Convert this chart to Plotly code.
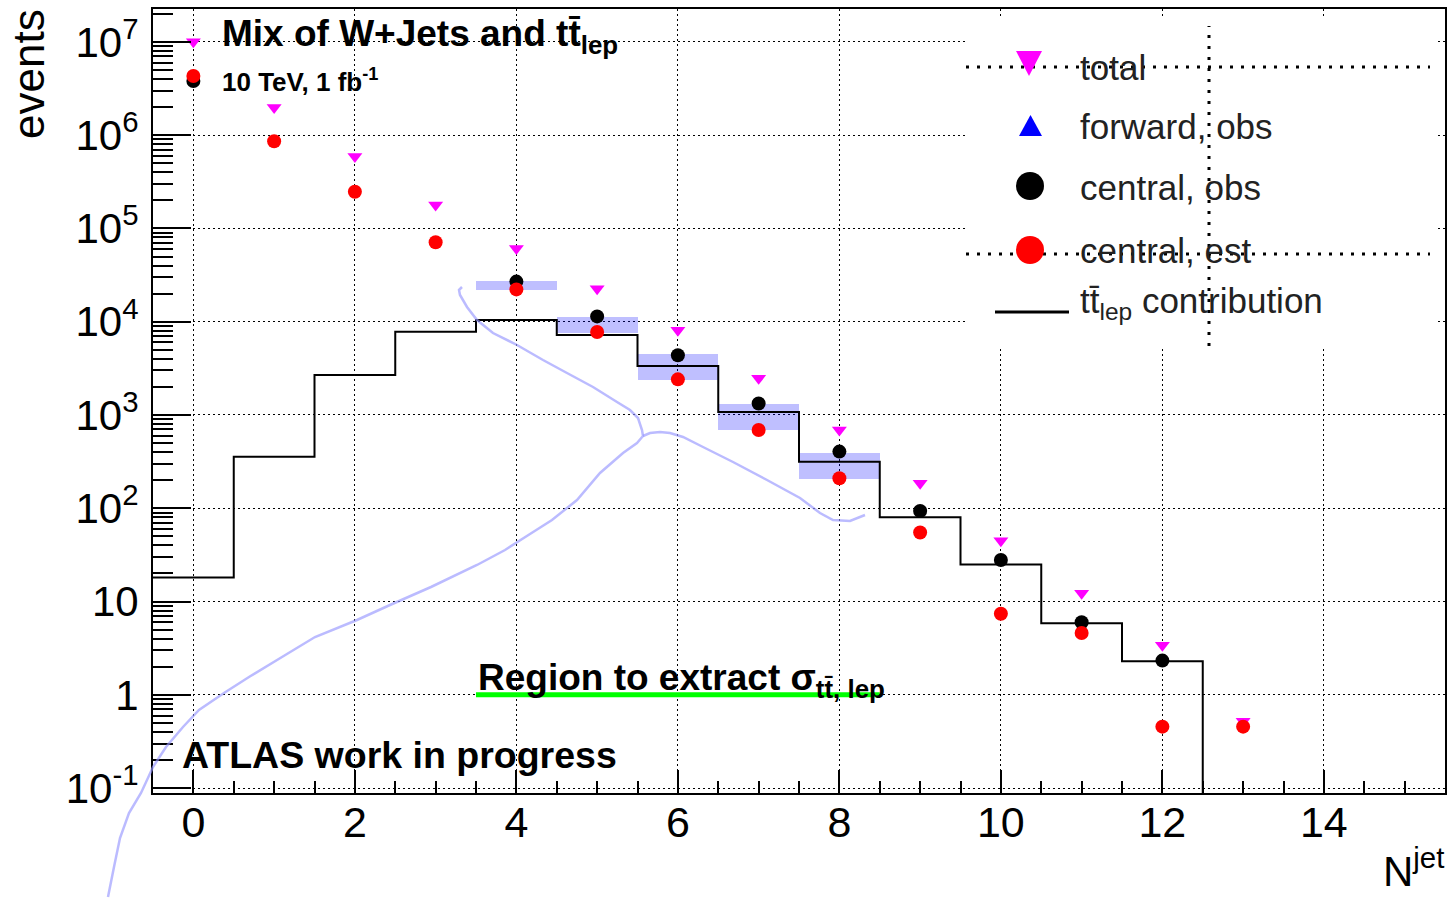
import plotly.graph_objects as go

# ---------------- data ----------------
njet = list(range(14))
total = [1.0e7, 1.98e6, 5.9e5, 1.78e5, 6.1e4, 2.25e4, 8.1e3, 2.47e3, 690, 185, 45, 12.3, 3.4, 0.52]
central_obs = [3.8e6, None, None, None, 2.69e4, 1.14e4, 4.37e3, 1.33e3, 405, 93.6, 27.9, 6.0, 2.33, None]
central_est = [4.3e6, 8.6e5, 2.47e5, 7.1e4, 2.22e4, 7.75e3, 2.41e3, 690, 210, 55, 7.4, 4.6, 0.456, 0.456]

ttbar_bins = list(range(13))
ttbar_lep = [18.1, 357, 2680, 7.8e3, 1.04e4, 7.2e3, 3.35e3, 1.08e3, 316, 80, 25, 5.85, 2.29]

band_bins = [4, 5, 6, 7, 8]
band_lo = [2.17e4, 7.57e3, 2.39e3, 690, 208]
band_hi = [2.74e4, 1.12e4, 4.51e3, 1.31e3, 392]

region_range = [3.5, 8.5]
region_level = 1.0

x_ticks = [0, 2, 4, 6, 8, 10, 12, 14]
y_ticks = [0.1, 1, 10, 1e2, 1e3, 1e4, 1e5, 1e6, 1e7]
y_ticktext = ["10<sup>-1</sup>", "1", "10", "10<sup>2</sup>", "10<sup>3</sup>",
              "10<sup>4</sup>", "10<sup>5</sup>", "10<sup>6</sup>", "10<sup>7</sup>"]

legend_labels = ["total", "forward, obs", "central, obs", "central, est",
                 "tt\u0304<sub>lep</sub> contribution"]

# ---------------- geometry helpers (page pixels) ----------------
W, H = 1449, 898
L, R, T, B = 153, 1445, 9, 793
XR = [-0.5, 15.5]
YR = [-1.052, 7.352]


def px(x):
    return (x - L) / (R - L)


def py(y):
    return (B - y) / (B - T)


def bin_edges(centres):
    return [c - 0.5 for c in centres] + [centres[-1] + 0.5]


fig = go.Figure()

# uncertainty bands
fig.add_trace(go.Bar(
    x=band_bins, base=band_lo, y=[h - l for h, l in zip(band_hi, band_lo)],
    width=1.0, marker=dict(color="rgba(0,0,255,0.25)", line=dict(width=0)),
    showlegend=False, hoverinfo="skip"))

# ttbar step histogram (drawn down to the axis floor after last bin)
edges = bin_edges(ttbar_bins)
floor_val = 10 ** YR[0]
fig.add_trace(go.Scatter(
    x=edges, y=ttbar_lep + [floor_val], mode="lines", line_shape="hv",
    line=dict(color="black", width=2), showlegend=False, hoverinfo="skip"))

# region line
fig.add_trace(go.Scatter(
    x=region_range, y=[region_level, region_level], mode="lines",
    line=dict(color="#00ff00", width=5), showlegend=False, hoverinfo="skip"))

fig.add_trace(go.Scatter(
    x=njet, y=total, mode="markers",
    marker=dict(symbol="triangle-down", size=13, color="#ff00ff"),
    showlegend=False))
fig.add_trace(go.Scatter(
    x=njet, y=central_obs, mode="markers",
    marker=dict(symbol="circle", size=14, color="black"),
    showlegend=False))
fig.add_trace(go.Scatter(
    x=njet, y=central_est, mode="markers",
    marker=dict(symbol="circle", size=14, color="#ff0000"),
    showlegend=False))

# ---------------- decorative hand-drawn curve ----------------
curve_ab = [(108, 897), (114, 867), (120, 838), (129, 813), (141, 793), (153, 767), (166, 747),
            (183, 727), (199, 710), (224, 693), (249, 677), (282, 657), (315, 637), (357, 620),
            (390, 605), (431, 587), (477, 565), (505, 550), (530, 534), (552, 520), (577, 500),
            (600, 473), (623, 453), (637, 443), (643, 436), (642, 430), (638, 418), (630, 410),
            (617, 402), (593, 387), (567, 373), (543, 360), (517, 345), (493, 333), (477, 320),
            (467, 307), (460, 295), (459, 290), (462, 287)]
curve_c = [(643, 436), (650, 433), (660, 432), (670, 433), (683, 437), (703, 447), (733, 462),
           (767, 480), (800, 498), (820, 513), (833, 520), (850, 521), (865, 515)]


def path_of(pts):
    return "M " + " L ".join(f"{px(a):.5f},{py(b):.5f}" for a, b in pts)


shapes = []
for pts in (curve_ab, curve_c):
    shapes.append(dict(type="path", path=path_of(pts), xref="paper", yref="paper",
                       line=dict(color="rgba(150,150,255,0.65)", width=2.5), layer="above"))

# ---------------- legend box (manual) ----------------
shapes.append(dict(type="rect", xref="paper", yref="paper", x0=px(965), x1=px(1437),
                   y0=py(346), y1=py(19), fillcolor="white", line=dict(width=0), layer="above"))
dot = dict(color="black", width=3, dash="3px,8px")
shapes.append(dict(type="line", xref="paper", yref="paper", x0=px(966), x1=px(1430),
                   y0=py(67), y1=py(67), line=dot, layer="above"))
shapes.append(dict(type="line", xref="paper", yref="paper", x0=px(966), x1=px(1430),
                   y0=py(254), y1=py(254), line=dot, layer="above"))
shapes.append(dict(type="line", xref="paper", yref="paper", x0=px(1209), x1=px(1209),
                   y0=py(346), y1=py(26), line=dot, layer="above"))
# legend symbols
shapes.append(dict(type="path", xref="paper", yref="paper", layer="above",
                   path=f"M {px(1016)},{py(51)} L {px(1042)},{py(51)} L {px(1029)},{py(76)} Z",
                   fillcolor="#ff00ff", line=dict(width=0)))
shapes.append(dict(type="path", xref="paper", yref="paper", layer="above",
                   path=f"M {px(1019)},{py(136)} L {px(1042)},{py(136)} L {px(1030.5)},{py(115)} Z",
                   fillcolor="#0000ff", line=dict(width=0)))
shapes.append(dict(type="circle", xref="paper", yref="paper", layer="above",
                   x0=px(1016), x1=px(1044), y0=py(200), y1=py(172),
                   fillcolor="black", line=dict(width=0)))
shapes.append(dict(type="circle", xref="paper", yref="paper", layer="above",
                   x0=px(1016), x1=px(1044), y0=py(264), y1=py(236),
                   fillcolor="#ff0000", line=dict(width=0)))
shapes.append(dict(type="line", xref="paper", yref="paper", layer="above",
                   x0=px(995), x1=px(1069), y0=py(312), y1=py(312),
                   line=dict(color="black", width=3)))

# ---------------- annotations ----------------
ann = []


def text(t, x, baseline, size, bold=False, anchor="left", color="black", family="Liberation Sans"):
    s = f"<b>{t}</b>" if bold else t
    ann.append(dict(text=s, x=px(x), y=py(baseline - 0.35 * size), xref="paper", yref="paper",
                    xanchor=anchor, yanchor="middle", showarrow=False,
                    font=dict(size=size, color=color, family=family)))


text("Mix of W+Jets and tt\u0304<sub>lep</sub>", 220, 49, 37, bold=True)
text("10 TeV, 1 fb<sup>-1</sup>", 220, 90, 26, bold=True)
text("Region to extract \u03c3<sub>tt\u0304, lep</sub>", 476, 693, 37, bold=True)
text("ATLAS work in progress", 180, 768, 37.5, bold=True)

leg_base = [80, 139, 200, 263, 315]
for lab, b in zip(legend_labels, leg_base):
    text(lab, 1078, b, 35, color="#222222")

ann.append(dict(text="events", x=px(28), y=py(74), xref="paper", yref="paper",
                xanchor="center", yanchor="middle", showarrow=False, textangle=-90,
                font=dict(size=44, color="black", family="Liberation Sans")))
ann.append(dict(text="N<sup>jet</sup>", x=px(1446), y=py(897), xref="paper", yref="paper",
                xanchor="right", yanchor="bottom", showarrow=False,
                font=dict(size=42, color="black", family="Liberation Sans")))

minor_y = [k * 10 ** e for e in range(-2, 8) for k in range(2, 10)]

fig.update_layout(
    width=W, height=H,
    margin=dict(l=L, r=W - R, t=T, b=H - B, pad=0, autoexpand=False),
    paper_bgcolor="white", plot_bgcolor="white",
    shapes=shapes, annotations=ann, showlegend=False, bargap=0,
    xaxis=dict(range=XR, showline=True, linecolor="black", linewidth=2, mirror=True,
               ticks="inside", ticklen=23, tickwidth=2, tickcolor="black",
               tickmode="array", tickvals=x_ticks, automargin=False, ticklabelstandoff=-10,
               tickfont=dict(size=43, family="Liberation Sans", color="black"),
               showgrid=True, gridcolor="black", gridwidth=1, griddash="2px,3px", zeroline=False,
               minor=dict(ticks="inside", ticklen=12, tickwidth=1.5, tickcolor="black",
                          tickmode="linear", tick0=0, dtick=0.5, showgrid=False)),
    yaxis=dict(type="log", range=YR, showline=True, linecolor="black", linewidth=2, mirror=True,
               ticks="inside", ticklen=38, tickwidth=2, tickcolor="black",
               tickmode="array", tickvals=y_ticks, ticktext=y_ticktext, automargin=False,
               ticklabelstandoff=4,
               tickfont=dict(size=42, family="Liberation Sans", color="black"),
               showgrid=True, gridcolor="black", gridwidth=1, griddash="2px,3px", zeroline=False,
               minor=dict(ticks="inside", ticklen=20, tickwidth=1.5, tickcolor="black",
                          tickmode="array", tickvals=minor_y, showgrid=False)),
)

fig.write_html(
    "out.html",
    config={"displayModeBar": False},
    post_script="document.body.style.margin='0';document.documentElement.style.overflow='hidden';",
)
